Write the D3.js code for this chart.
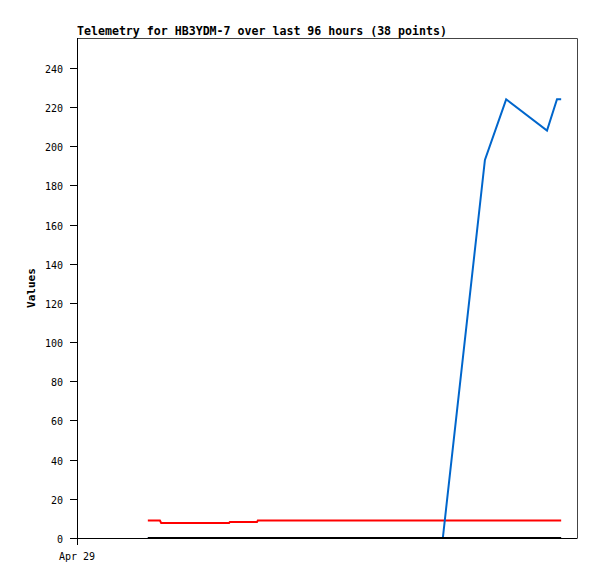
<!DOCTYPE html>
<html>
<head>
<meta charset="utf-8">
<script src="https://cdn.jsdelivr.net/npm/d3@7"></script>
<style>
  body { margin: 0; background: #fff; }
  svg { display: block; }
</style>
</head>
<body>
<div id="chart"></div>
<script>
/* Telemetry chart — three series over the last 96 hours */
var titleText = 'Telemetry for HB3YDM-7 over last 96 hours (38 points)';
var yTicks = [0, 20, 40, 60, 80, 100, 120, 140, 160, 180, 200, 220, 240];
var xTickLabels = ['Apr 29'];

// hours after Apr 29 00:00
var hours = [17.0, 19.9, 20.2, 22, 24, 26, 28, 30, 32, 34, 36.5, 36.7, 39, 41, 43.2, 43.4,
  46, 49, 52, 55, 58, 61, 64, 67, 70, 73, 76, 79, 82, 84, 86, 87.8, 97.9, 103, 112.8, 115.2, 116.2];
var blue = [0, 0, 0, 0, 0, 0, 0, 0, 0, 0, 0, 0, 0, 0, 0, 0,
  0, 0, 0, 0, 0, 0, 0, 0, 0, 0, 0, 0, 0, 0, 0, 0, 193, 224, 208, 224, 224];
var red = [8.9, 8.9, 7.7, 7.7, 7.7, 7.7, 7.7, 7.7, 7.7, 7.7, 7.7, 8.2, 8.2, 8.2, 8.2, 8.9,
  8.9, 8.9, 8.9, 8.9, 8.9, 8.9, 8.9, 8.9, 8.9, 8.9, 8.9, 8.9, 8.9, 8.9, 8.9, 8.9, 8.9, 8.9, 8.9, 8.9, 8.9];
var black = [0, 0, 0, 0, 0, 0, 0, 0, 0, 0, 0, 0, 0, 0, 0, 0,
  0, 0, 0, 0, 0, 0, 0, 0, 0, 0, 0, 0, 0, 0, 0, 0, 0, 0, 0, 0, 0];

(function () {
  var W = 597, H = 579;
  var m = { top: 38, right: 20, bottom: 41, left: 77 };
  var iw = W - m.left - m.right, ih = H - m.top - m.bottom;
  var mono = '"DejaVu Sans Mono", monospace';

  var svg = d3.select('#chart').append('svg').attr('width', W).attr('height', H);
  var g = svg.append('g').attr('transform', 'translate(' + m.left + ',' + m.top + ')');

  var xs = d3.scaleLinear().domain([0, 120]).range([0, iw]);
  var ys = d3.scaleLinear().domain([0, 255.3]).range([ih, 0]);

  /* frame: top & right */
  g.append('path')
    .attr('d', 'M0,0.5H' + (iw + 0.5) + 'V' + ih)
    .attr('fill', 'none').attr('stroke', '#444').attr('stroke-width', 1);

  /* series */
  function line(vals) {
    return d3.line()
      .x(function (d, i) { return xs(hours[i]); })
      .y(function (d) { return ys(d); })(vals);
  }
  g.append('path').attr('d', line(red)).attr('fill', 'none')
    .attr('stroke', '#ff0000').attr('stroke-width', 2);
  g.append('path').attr('d', line(blue)).attr('fill', 'none')
    .attr('stroke', '#0066cc').attr('stroke-width', 2);
  g.append('path').attr('d', line(black)).attr('fill', 'none')
    .attr('stroke', '#000').attr('stroke-width', 2);

  /* y axis */
  var ya = g.append('g');
  ya.append('line').attr('x1', 0.5).attr('x2', 0.5).attr('y1', 0).attr('y2', ih + 7)
    .attr('stroke', '#000');
  yTicks.forEach(function (v) {
    var y = Math.round(ys(v)) + 0.5;
    ya.append('line').attr('x1', -7).attr('x2', 0).attr('y1', y).attr('y2', y).attr('stroke', '#000');
    ya.append('text').attr('x', -14).attr('y', y + 4)
      .attr('text-anchor', 'end').style('font-family', mono).style('font-size', '10px')
      .text(v);
  });

  /* x axis */
  g.append('line').attr('x1', 0).attr('x2', iw + 0.5).attr('y1', ih + 0.5).attr('y2', ih + 0.5)
    .attr('stroke', '#000');
  xTickLabels.forEach(function (t, i) {
    g.append('text').attr('x', xs(i * 24)).attr('y', ih + 22)
      .attr('text-anchor', 'middle').style('font-family', mono).style('font-size', '10px')
      .text(t);
  });

  /* title & y label */
  svg.append('text').attr('x', m.left).attr('y', 35)
    .style('font-family', mono).style('font-size', '11.6px').style('font-weight', 'bold')
    .text(titleText);
  svg.append('text')
    .attr('transform', 'translate(35,' + (m.top + ih * 0.5) + ') rotate(-90)')
    .attr('text-anchor', 'middle')
    .style('font-family', mono).style('font-size', '11px').style('font-weight', 'bold')
    .text('Values');
})();
</script>
</body>
</html>
